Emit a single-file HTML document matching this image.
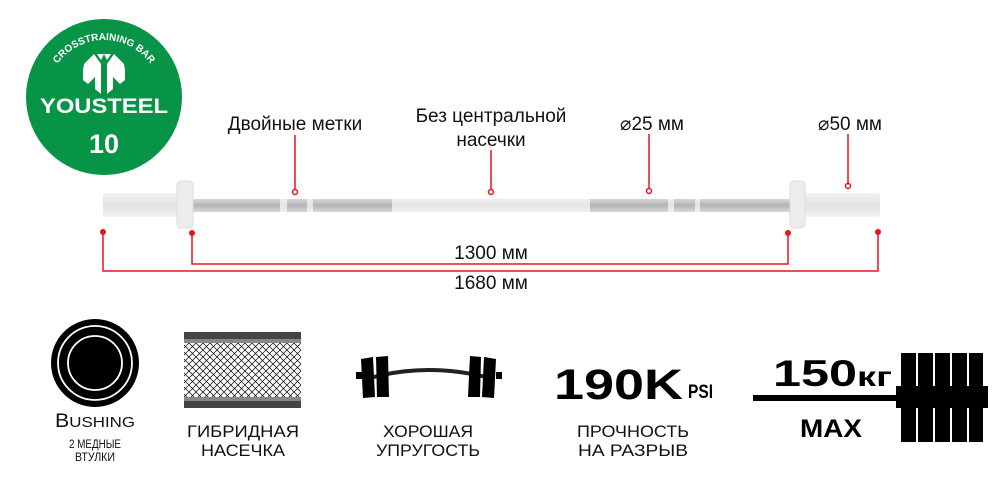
<!DOCTYPE html>
<html><head><meta charset="utf-8"><style>
html,body{margin:0;padding:0;background:#fff;width:1000px;height:486px;overflow:hidden}
svg{display:block}
</style></head><body>
<svg width="1000" height="486" viewBox="0 0 1000 486" xmlns="http://www.w3.org/2000/svg" font-family="Liberation Sans, DejaVu Sans, sans-serif">
<defs>
<linearGradient id="sl" x1="0" y1="0" x2="0" y2="1"><stop offset="0" stop-color="#f4f4f4"/><stop offset="0.5" stop-color="#e2e2e2"/><stop offset="1" stop-color="#f2f2f2"/></linearGradient>
<linearGradient id="sh" x1="0" y1="0" x2="0" y2="1"><stop offset="0" stop-color="#eee"/><stop offset="0.5" stop-color="#e4e4e4"/><stop offset="1" stop-color="#f0f0f0"/></linearGradient>
<linearGradient id="kn" x1="0" y1="0" x2="0" y2="1"><stop offset="0" stop-color="#d6d6d6"/><stop offset="0.5" stop-color="#b4b4b4"/><stop offset="1" stop-color="#d8d8d8"/></linearGradient>
<pattern id="mesh" width="7" height="7" patternUnits="userSpaceOnUse"><path d="M0 0L7 7M7 0L0 7" stroke="#000" stroke-width="0.7"/></pattern>
<path id="arc" d="M47 97 A57 57 0 0 1 161 97"/>
</defs>
<!-- logo -->
<circle cx="104" cy="97" r="78" fill="#079447"/>
<text font-size="10" font-weight="bold" fill="#fff"><textPath href="#arc" startOffset="50%" text-anchor="middle">CROSSTRAINING BAR</textPath></text>
<g fill="#fff">
<path d="M84 64 L94 54 L101 64 L101 94 L95 89 L95 77 L88 84 L83 80 L83 70 Z"/>
<path d="M124 64 L114 54 L107 64 L107 94 L113 89 L113 77 L120 84 L125 80 L125 70 Z"/>
<path d="M97 54 L104 54 L101 60 Z M104 54 L111 54 L107 60 Z"/>
</g>
<text x="104" y="113" font-size="21" font-weight="bold" fill="#fff" text-anchor="middle" textLength="128" lengthAdjust="spacingAndGlyphs">YOUSTEEL</text>
<text x="104" y="153" font-size="27" font-weight="bold" fill="#fff" text-anchor="middle">10</text>
<!-- bar -->
<rect x="103" y="193" width="76" height="24" rx="2" fill="url(#sl)"/>
<rect x="805" y="193" width="75" height="24" rx="2" fill="url(#sl)"/>
<rect x="190" y="199" width="602" height="13" fill="url(#sh)"/>
<rect x="192" y="199" width="88" height="13" fill="url(#kn)"/>
<rect x="287" y="199" width="20" height="13" fill="url(#kn)"/>
<rect x="313" y="199" width="79" height="13" fill="url(#kn)"/>
<rect x="590" y="199" width="78" height="13" fill="url(#kn)"/>
<rect x="674" y="199" width="21" height="13" fill="url(#kn)"/>
<rect x="700" y="199" width="90" height="13" fill="url(#kn)"/>
<rect x="177" y="181" width="16" height="47" rx="4" fill="#ececec" stroke="#dcdcdc"/>
<rect x="790" y="181" width="15" height="47" rx="4" fill="#ececec" stroke="#dcdcdc"/>
<!-- labels -->
<g font-size="19" fill="#111" text-anchor="middle">
<text x="295" y="130">Двойные метки</text>
<text x="491" y="122">Без центральной</text>
<text x="491" y="146">насечки</text>
<text x="652" y="130">⌀25 мм</text>
<text x="850" y="130">⌀50 мм</text>
<text x="491" y="259">1300 мм</text>
<text x="491" y="289">1680 мм</text>
</g>
<g stroke="#e8141c" stroke-width="1.5" fill="none">
<path d="M295 135V189M491 150V189M649 134V189M848 134V184"/>
<circle cx="295" cy="192" r="2.5" fill="#fff"/><circle cx="491" cy="192" r="2.5" fill="#fff"/>
<circle cx="649" cy="191" r="2.5" fill="#fff"/><circle cx="848" cy="186" r="2.5" fill="#fff"/>
<path d="M192 233V264H788V233M103 232V271H878V232"/>
</g>
<g fill="#e8141c"><circle cx="103" cy="232" r="3"/><circle cx="192" cy="233" r="3"/><circle cx="788" cy="233" r="3"/><circle cx="878" cy="232" r="3"/></g>
<!-- bushing -->
<circle cx="95" cy="363" r="44" fill="#000"/>
<circle cx="95" cy="363" r="37" fill="none" stroke="#fff" stroke-width="1.8"/>
<circle cx="95" cy="363" r="27" fill="none" stroke="#fff" stroke-width="1.8"/>
<g fill="#111" text-anchor="middle">
<text x="95" y="427" font-size="19" textLength="80" lengthAdjust="spacingAndGlyphs">B<tspan font-size="15">USHING</tspan></text>
<text x="95" y="448" font-size="11.5" textLength="52" lengthAdjust="spacingAndGlyphs">2 МЕДНЫЕ</text>
<text x="95" y="461" font-size="11.5" textLength="40" lengthAdjust="spacingAndGlyphs">ВТУЛКИ</text>
<text x="243" y="437" font-size="17" textLength="112" lengthAdjust="spacingAndGlyphs">ГИБРИДНАЯ</text>
<text x="243" y="456" font-size="17" textLength="84" lengthAdjust="spacingAndGlyphs">НАСЕЧКА</text>
<text x="428" y="437" font-size="17" textLength="90" lengthAdjust="spacingAndGlyphs">ХОРОШАЯ</text>
<text x="428" y="456" font-size="17" textLength="104" lengthAdjust="spacingAndGlyphs">УПРУГОСТЬ</text>
<text x="633" y="437" font-size="17" textLength="112" lengthAdjust="spacingAndGlyphs">ПРОЧНОСТЬ</text>
<text x="633" y="456" font-size="17" textLength="110" lengthAdjust="spacingAndGlyphs">НА РАЗРЫВ</text>
</g>
<!-- knurl -->
<rect x="184" y="332" width="117" height="76" fill="url(#mesh)"/>
<rect x="184" y="332" width="117" height="7" fill="#444"/>
<rect x="184" y="339" width="117" height="4" fill="#888"/>
<rect x="184" y="397" width="117" height="4" fill="#888"/>
<rect x="184" y="401" width="117" height="7" fill="#444"/>
<!-- dumbbell -->
<path d="M370 378 Q428 362 490 378" stroke="#222" stroke-width="4" fill="none"/>
<g fill="#000">
<rect x="356" y="372" width="6" height="7"/><rect x="496" y="372" width="6" height="7"/>
<polygon points="361,359 373,357 375,397 363,398"/>
<polygon points="376,357 388,356 389,397 377,397"/>
<polygon points="470,356 481,357 480,397 468,397"/>
<polygon points="484,357 496,359 494,398 482,397"/>
</g>
<!-- 190K -->
<text x="554" y="399" font-size="43" font-weight="bold" fill="#000" textLength="129" lengthAdjust="spacingAndGlyphs">190K</text>
<text x="688" y="398" font-size="19" font-weight="bold" fill="#000" textLength="25" lengthAdjust="spacingAndGlyphs">PSI</text>
<!-- 150 -->
<text x="773" y="386" font-size="37" font-weight="bold" fill="#000" textLength="119" lengthAdjust="spacingAndGlyphs">150<tspan font-size="28">кг</tspan></text>
<rect x="753" y="395" width="235" height="6" fill="#000"/>
<text x="831" y="437" font-size="25" font-weight="bold" fill="#000" text-anchor="middle" textLength="62" lengthAdjust="spacingAndGlyphs">MAX</text>
<g fill="#000">
<rect x="901" y="353" width="15" height="89"/><rect x="918" y="353" width="15" height="89"/><rect x="935" y="353" width="15" height="89"/><rect x="952" y="353" width="15" height="89"/><rect x="969" y="353" width="14" height="89"/>
<rect x="896" y="386" width="92" height="22"/>
</g>
</svg>
</body></html>
